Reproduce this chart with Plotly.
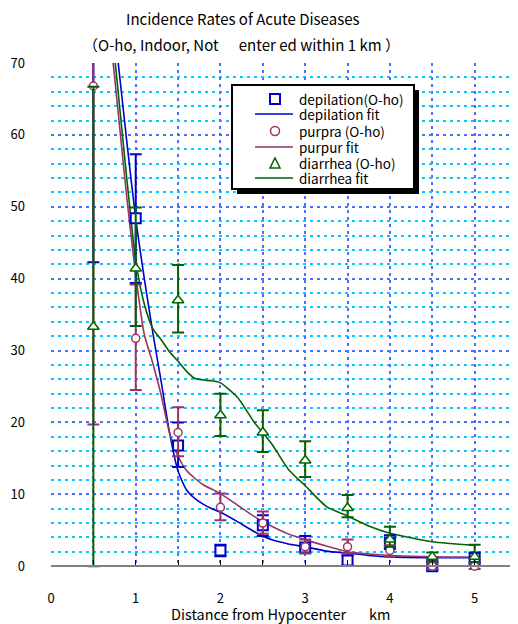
import plotly.graph_objects as go

# ---------------- data ----------------
dist = [0.5, 1.0, 1.5, 2.0, 2.5, 3.0, 3.5, 4.0, 4.5, 5.0]

depilation = [75.0, 48.4, 16.8, 2.2, 5.7, 2.6, 0.8, 3.3, 0.0, 1.1]
depilation_hi = [108.0, 57.3, 20.0, 3.0, 7.1, 4.2, 1.5, 4.3, 0.5, 1.9]
depilation_lo = [42.3, 39.4, 13.8, 1.4, 4.2, 1.8, 0.1, 2.4, -0.5, 0.3]

purpura = [66.8, 31.7, 18.6, 8.2, 6.0, 2.7, 2.7, 2.2, 0.0, 0.0]
purpura_hi = [114.0, 39.2, 22.1, 10.1, 7.6, 3.7, 3.7, 2.9, 0.4, 0.4]
purpura_lo = [19.7, 24.5, 15.3, 6.4, 4.5, 1.8, 1.8, 1.3, -0.4, -0.4]

diarrhea = [33.3, 41.4, 37.0, 21.0, 18.6, 14.7, 8.1, 3.7, 1.3, 1.3]
diarrhea_hi = [66.7, 49.9, 41.9, 24.0, 21.7, 17.4, 9.9, 5.5, 1.9, 3.0]
diarrhea_lo = [0.0, 33.4, 32.5, 18.1, 15.9, 12.4, 6.8, 2.7, 0.7, 0.6]

fit_x = [0.7, 0.8, 0.9, 1.0, 1.1, 1.2, 1.3, 1.4, 1.5, 1.6, 1.7, 1.8, 1.9, 2.0,
         2.2, 2.4, 2.6, 2.8, 3.0, 3.25, 3.5, 3.75, 4.0, 4.5, 5.0]
depilation_fit = [80.0, 69.3, 58.5, 48.3, 40.1, 32.6, 25.7, 18.5, 13.2, 10.6, 9.4, 8.6, 8.0, 7.5,
                  6.2, 4.8, 3.7, 3.1, 2.7, 2.1, 1.8, 1.5, 1.3, 1.2, 1.2]
purpura_fit = [73.9, 62.3, 50.7, 40.5, 32.3, 28.3, 23.8, 18.5, 15.3, 13.3, 12.2, 11.3, 10.7, 10.1,
               8.5, 6.9, 5.6, 4.5, 3.7, 2.8, 2.0, 1.7, 1.5, 1.3, 1.25]
diarrhea_fit = [76.9, 65.1, 53.3, 42.5, 36.5, 33.1, 31.5, 29.8, 28.5, 27.1, 26.1, 25.9, 25.8, 25.5,
                23.5, 20.0, 17.1, 13.5, 11.2, 8.3, 7.0, 5.6, 4.6, 3.4, 2.9]

x_ticks = [0, 1, 2, 3, 4, 5]
y_ticks = [0, 10, 20, 30, 40, 50, 60, 70]

legend_names = ["depilation(O-ho)", "depilation fit", "purpra (O-ho)",
                "purpur fit", "diarrhea (O-ho)", "diarrhea fit"]

title_text = "Incidence Rates of Acute Diseases"
subtitle_text = "（O-ho, Indoor, Not\u00a0\u00a0\u00a0\u00a0\u00a0\u00a0enter ed within 1 km ）"
xtitle_text = "Distance from Hypocenter\u00a0\u00a0\u00a0\u00a0\u00a0\u00a0\u00a0km"

BLUE = "#0000cc"
PURPLE = "#993366"
GREEN = "#006400"
GRID_MAJOR = "#4d6fff"
GRID_MINOR = "#00ccff"
FONT = "Noto Sans CJK JP"

# the page body adds an 8 px margin; positions below are in window pixels
OFF = 8
W, H = 518 - OFF, 624 - OFF
ML, MR, MT = 51 - OFF, 1, 63 - OFF
PLOT_BOTTOM = 577 - OFF
MB = H - PLOT_BOTTOM
YMIN, YMAX = -1.5, 70
XMAX = 5.5
PW, PH = W - ML - MR, H - MT - MB


def px_x(p):
    return (p - OFF - ML) / PW


def px_y(p):
    return (PLOT_BOTTOM - (p - OFF)) / PH


def err(vals, hi, lo):
    return dict(type="data", symmetric=False,
                array=[h - v for v, h in zip(vals, hi)],
                arrayminus=[v - l for v, l in zip(vals, lo)])


fig = go.Figure()

series = [
    (depilation, depilation_hi, depilation_lo, BLUE, "square", 10, 2, depilation_fit),
    (purpura, purpura_hi, purpura_lo, PURPLE, "circle", 8, 1.5, purpura_fit),
    (diarrhea, diarrhea_hi, diarrhea_lo, GREEN, "triangle-up", 10, 1.5, diarrhea_fit),
]

for vals, hi, lo, color, sym, size, lw, fitvals in series:
    fig.add_trace(go.Scatter(
        x=fit_x, y=fitvals, mode="lines", showlegend=False,
        line=dict(color=color, width=1.6, shape="spline", smoothing=0.6),
    ))
for vals, hi, lo, color, sym, size, lw, fitvals in series:
    e = err(vals, hi, lo)
    e.update(color=color, thickness=2, width=6)
    fig.add_trace(go.Scatter(
        x=dist, y=vals, mode="markers", showlegend=False, error_y=e,
        marker=dict(symbol=sym, size=size, color="white",
                    line=dict(color=color, width=lw)),
    ))

# ---------------- manual legend (box, symbols, labels) ----------------
LX0, LY0, LX1, LY1 = 232, 85, 414, 189
row_y = [99, 114, 131, 147, 163, 178]
sym_x = 275
text_x = 297


def rect_px(x0, y0, x1, y1, **kw):
    return dict(type="rect", xref="paper", yref="paper",
                x0=px_x(x0), x1=px_x(x1), y0=px_y(y1), y1=px_y(y0), layer="above", **kw)


def hline_px(x0, x1, y, color):
    return dict(type="line", xref="paper", yref="paper", x0=px_x(x0), x1=px_x(x1),
                y0=px_y(y), y1=px_y(y), line=dict(color=color, width=1.6), layer="above")


shapes = [
    # hide gridlines below the zero axis
    dict(type="rect", xref="x", yref="y", x0=0, x1=XMAX, y0=YMIN, y1=0,
         fillcolor="white", line=dict(width=0), layer="between"),
    # legend shadow and box
    rect_px(LX0 + 5, LY0 + 5, LX1 + 5, LY1 + 5, fillcolor="black", line=dict(width=0)),
    rect_px(LX0, LY0, LX1, LY1, fillcolor="white", line=dict(color="black", width=2)),
    # symbols
    rect_px(sym_x - 5, row_y[0] - 5, sym_x + 5, row_y[0] + 5, fillcolor="white",
            line=dict(color=BLUE, width=2)),
    hline_px(255, 293, row_y[1], BLUE),
    dict(type="circle", xref="paper", yref="paper", x0=px_x(sym_x - 4.5), x1=px_x(sym_x + 4.5),
         y0=px_y(row_y[2] + 4.5), y1=px_y(row_y[2] - 4.5), fillcolor="white",
         line=dict(color=PURPLE, width=1.5), layer="above"),
    hline_px(255, 293, row_y[3], PURPLE),
    dict(type="path", xref="paper", yref="paper",
         path="M {:.5f},{:.5f} L {:.5f},{:.5f} L {:.5f},{:.5f} Z".format(
             px_x(sym_x - 5), px_y(row_y[4] + 5), px_x(sym_x + 5), px_y(row_y[4] + 5),
             px_x(sym_x), px_y(row_y[4] - 5)),
         fillcolor="white", line=dict(color=GREEN, width=1.5), layer="above"),
    hline_px(255, 293, row_y[5], GREEN),
]

annotations = [
    dict(text=title_text, xref="paper", yref="paper", x=px_x(242), y=px_y(18),
         xanchor="center", yanchor="middle", showarrow=False,
         font=dict(family=FONT, size=15)),
    dict(text=subtitle_text, xref="paper", yref="paper", x=px_x(241), y=px_y(45),
         xanchor="center", yanchor="middle", showarrow=False,
         font=dict(family=FONT, size=15)),
    dict(text=xtitle_text, xref="paper", yref="paper", x=px_x(280), y=px_y(613),
         xanchor="center", yanchor="middle", showarrow=False,
         font=dict(family=FONT, size=14.5)),
]
for name, ry in zip(legend_names, row_y):
    annotations.append(dict(text=name, xref="paper", yref="paper", x=px_x(text_x), y=px_y(ry),
                            xanchor="left", yanchor="middle", showarrow=False,
                            font=dict(family=FONT, size=13.5)))

fig.update_layout(
    width=W, height=H,
    margin=dict(l=ML, r=MR, t=MT, b=MB, pad=0, autoexpand=False),
    paper_bgcolor="white", plot_bgcolor="white",
    font=dict(family=FONT, size=13, color="black"),
    showlegend=False,
    xaxis=dict(
        range=[0, XMAX], tickvals=x_ticks, ticktext=[str(v) for v in x_ticks],
        anchor="free", position=(0 - YMIN) / (YMAX - YMIN), automargin=False,
        showline=True, linecolor="#808080", linewidth=2,
        ticks="inside", ticklen=5, tickcolor="black", tickwidth=1,
        ticklabelstandoff=20,
        showgrid=True, gridcolor=GRID_MAJOR, gridwidth=1.6, griddash="3px,4px",
        minor=dict(dtick=0.5, tick0=0, ticks="inside", ticklen=5, tickcolor="black",
                   showgrid=True, gridcolor=GRID_MAJOR, gridwidth=1.6, griddash="3px,4px"),
        zeroline=False, fixedrange=True,
        tickfont=dict(family=FONT, size=13),
    ),
    yaxis=dict(
        range=[YMIN, YMAX], tickvals=y_ticks, ticktext=[str(v) for v in y_ticks],
        automargin=False,
        showline=False, ticks="", ticklabelstandoff=25,
        showgrid=True, gridcolor=GRID_MAJOR, gridwidth=1.6, griddash="3px,4px",
        minor=dict(dtick=2, tick0=0, showgrid=True, gridcolor=GRID_MINOR,
                   gridwidth=1.6, griddash="3px,4px"),
        zeroline=False, fixedrange=True,
        tickfont=dict(family=FONT, size=13),
    ),
    shapes=shapes,
    annotations=annotations,
)

fig.write_html("out.html")
